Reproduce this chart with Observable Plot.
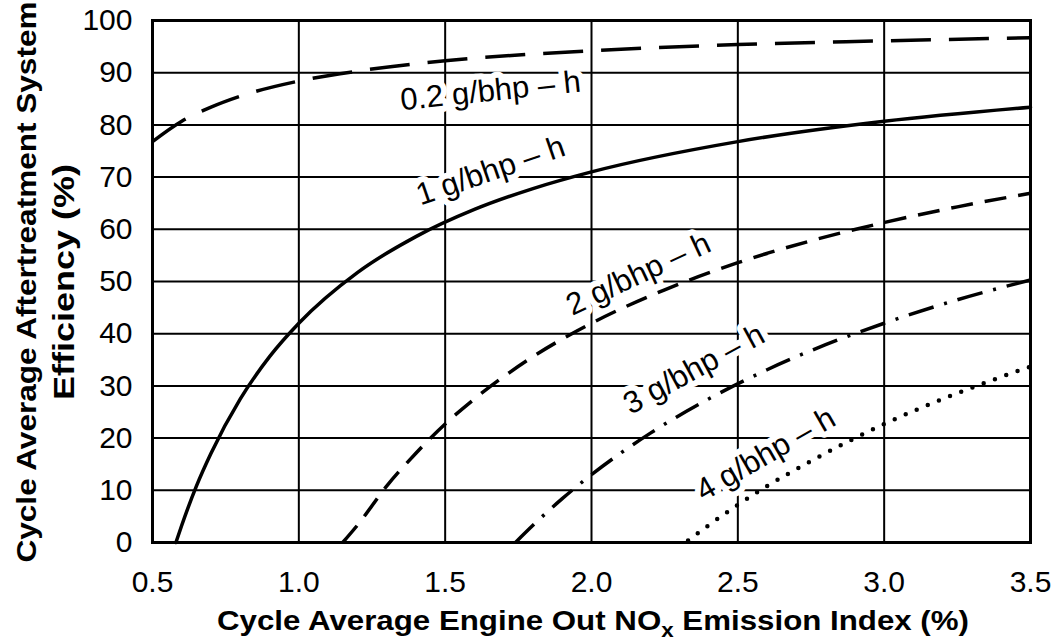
<!DOCTYPE html>
<html>
<head>
<meta charset="utf-8">
<script src="https://cdn.jsdelivr.net/npm/d3@7"></script>
<script src="https://cdn.jsdelivr.net/npm/@observablehq/plot@0.6"></script>
<style>
  html, body { margin: 0; padding: 0; background: #fff; }
  #chart svg { display: block; }
</style>
</head>
<body>
<div id="chart"></div>
<script>
// ---- tick values ----
const xTicks = [0.5, 1.0, 1.5, 2.0, 2.5, 3.0, 3.5];
const yTicks = [0, 10, 20, 30, 40, 50, 60, 70, 80, 90, 100];

// ---- series values ----
const x02 = [0.5, 0.6, 0.7, 0.8, 1.0, 1.2, 1.5, 2.0, 2.5, 3.0, 3.5];
const y02 = [76.8, 80.7, 83.4, 85.5, 88.4, 90.3, 92.3, 94.2, 95.4, 96.1, 96.7];

const x1 = [0.58, 0.6, 0.65, 0.7, 0.8, 0.9, 1.0, 1.2, 1.4, 1.6, 1.8, 2.0, 2.5, 3.0, 3.5];
const y1 = [0, 3.3, 10.8, 17.1, 27.5, 35.6, 42.0, 51.7, 58.6, 63.8, 67.8, 71.0, 76.8, 80.7, 83.4];

const x2 = [1.15, 1.2, 1.3, 1.4, 1.5, 1.6, 1.8, 2.0, 2.25, 2.5, 2.75, 3.0, 3.25, 3.5];
const y2 = [0, 3.3, 10.8, 17.1, 22.7, 27.5, 35.6, 42.0, 48.4, 53.6, 57.8, 61.3, 64.3, 66.9];

const x3 = [1.74, 1.8, 1.9, 2.0, 2.2, 2.4, 2.6, 2.8, 3.0, 3.25, 3.5];
const y3 = [0, 3.3, 8.4, 13.0, 20.9, 27.5, 33.1, 37.9, 42.0, 46.5, 50.3];

const x4 = [2.33, 2.4, 2.5, 2.6, 2.75, 3.0, 3.25, 3.5];
const y4 = [0.4, 3.3, 7.2, 10.8, 15.6, 22.7, 28.6, 33.7];

// ---- curve labels ----
const labelText  = ["0.2 g/bhp \u2013 h", "1 g/bhp \u2013 h", "2 g/bhp \u2013 h", "3 g/bhp \u2013 h", "4 g/bhp \u2013 h"];
const labelX     = [1.655, 1.655, 2.16, 2.35, 2.595];
const labelY     = [86.5, 71.2, 51.4, 33.2, 16.9];
const labelAngle = [-6, -19, -25, -28.5, -30];

const seriesX = [x02, x1, x2, x3, x4];
const seriesY = [y02, y1, y2, y3, y4];
const dashes = ["40,18", null, "22,12", "26,11,3,11", "0,12"];
const caps = ["butt", "round", "butt", "butt", "round"];
const widths = [3.5, 3.5, 3.5, 3.5, 4.5];

const FONT = "'Liberation Sans', Arial, Helvetica, sans-serif";

const labels = labelText.map((t, i) => ({t, x: labelX[i], y: labelY[i], a: labelAngle[i]}));

const lineMarks = seriesX.map((xs, i) => {
  const rows = xs.map((x, j) => ({x, y: seriesY[i][j]}));
  return Plot.line(rows, {
    x: "x", y: "y", curve: "monotone-x",
    stroke: "black", strokeWidth: widths[i],
    strokeDasharray: dashes[i] || undefined,
    strokeLinecap: caps[i]
  });
});

const chart = Plot.plot({
  width: 1055,
  height: 644,
  marginLeft: 152,
  marginRight: 25,
  marginTop: 20,
  marginBottom: 102,
  style: {fontFamily: FONT, fontSize: "30px", background: "#fff", color: "#000"},
  x: {domain: [0.5, 3.5], axis: null},
  y: {domain: [0, 100], axis: null},
  marks: [
    Plot.ruleX(xTicks, {stroke: "black", strokeWidth: 2}),
    Plot.ruleY(yTicks, {stroke: "black", strokeWidth: 2}),
    Plot.axisX({ticks: xTicks, tickFormat: d3.format(".1f"), tickSize: 0, tickPadding: 28, label: null, fontSize: 30}),
    Plot.axisY({ticks: yTicks, tickSize: 0, tickPadding: 0, dx: -20, label: null, fontSize: 30}),
    Plot.text(labels, {
      x: "x", y: "y", text: "t", rotate: "a",
      fontSize: 31, fill: "black",
      stroke: "white", strokeWidth: 12, paintOrder: "stroke", strokeLinejoin: "round"
    }),
    ...lineMarks,
    Plot.frame({stroke: "black", strokeWidth: 3})
  ]
});

document.getElementById("chart").appendChild(chart);

// axis titles
const svg = d3.select(chart);
const xt = svg.append("text")
  .attr("x", 593).attr("y", 630)
  .attr("text-anchor", "middle")
  .attr("font-family", FONT).attr("font-weight", "bold").attr("font-size", 28)
  .attr("textLength", 752).attr("lengthAdjust", "spacingAndGlyphs")
  .attr("fill", "black");
xt.append("tspan").text("Cycle Average Engine Out NO");
xt.append("tspan").attr("font-size", 20).attr("dy", 7).text("x");
xt.append("tspan").attr("dy", -7).text(" Emission Index (%)");

const yt = svg.append("g").attr("transform", "translate(0,282) rotate(-90)");
yt.append("text").attr("x", 0).attr("y", 36)
  .attr("text-anchor", "middle")
  .attr("font-family", FONT).attr("font-weight", "bold").attr("font-size", 28)
  .attr("textLength", 561).attr("lengthAdjust", "spacingAndGlyphs")
  .attr("fill", "black").text("Cycle Average Aftertreatment System");
yt.append("text").attr("x", 0).attr("y", 74)
  .attr("text-anchor", "middle")
  .attr("font-family", FONT).attr("font-weight", "bold").attr("font-size", 29)
  .attr("textLength", 236).attr("lengthAdjust", "spacingAndGlyphs")
  .attr("fill", "black").text("Efficiency (%)");
</script>
</body>
</html>
